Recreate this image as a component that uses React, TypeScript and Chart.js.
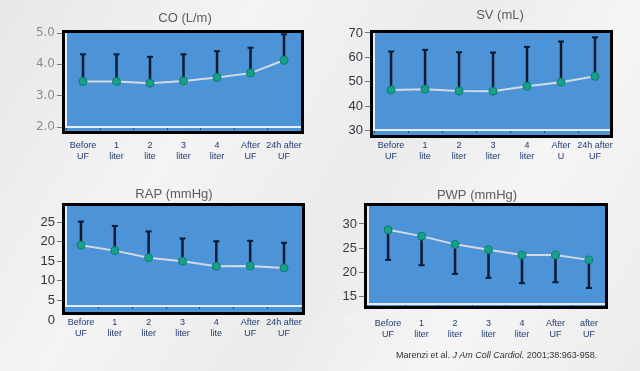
import React, { useEffect, useRef } from "react";
import { Chart, registerables } from "chart.js";
Chart.register(...registerables);

const CO_LABELS = [["Before", "UF"], ["1", "liter"], ["2", "lite"], ["3", "liter"], ["4", "liter"], ["After", "UF"], ["24h after", "UF"]];
const CO_MEAN = [3.45, 3.45, 3.4, 3.47, 3.58, 3.72, 4.13];
const CO_ERR = [4.32, 4.32, 4.24, 4.32, 4.42, 4.53, 4.96];
const CO_TICKS = [2, 3, 4, 5];

const SV_LABELS = [["Before", "UF"], ["1", "lite"], ["2", "liter"], ["3", "liter"], ["4", "liter"], ["After", "U"], ["24h after", "UF"]];
const SV_MEAN = [46.7, 47.0, 46.3, 46.2, 48.2, 49.9, 52.3];
const SV_ERR = [62.4, 63.1, 62.1, 62.0, 64.3, 66.5, 68.2];
const SV_TICKS = [30, 40, 50, 60, 70];

const RAP_LABELS = [["Before", "UF"], ["1", "liter"], ["2", "liter"], ["3", "liter"], ["4", "lite"], ["After", "UF"], ["24h after", "UF"]];
const RAP_MEAN = [19.1, 17.7, 15.9, 15.0, 13.7, 13.8, 13.3];
const RAP_ERR = [25.1, 24.0, 22.6, 20.8, 20.1, 20.2, 19.7];
const RAP_TICKS = [0, 5, 10, 15, 20, 25];

const PWP_LABELS = [["Before", "UF"], ["1", "liter"], ["2", "liter"], ["3", "liter"], ["4", "liter"], ["After", "UF"], ["after", "UF"]];
const PWP_MEAN = [28.8, 27.5, 25.8, 24.7, 23.6, 23.6, 22.6];
const PWP_ERR = [22.6, 21.5, 19.7, 18.9, 17.8, 18.0, 16.8];
const PWP_TICKS = [10, 15, 20, 25, 30];

const W = 640;
const H = 371;
const Y_W = 40;
const X_H = 30;

type Panel = {
  title: string;
  labels: string[][];
  mean: number[];
  err: number[];
  ticks: number[];
  box: { l: number; t: number; r: number; b: number };
  yMin: number;
  yMax: number;
  xMin: number;
  xMax: number;
  titleX: number;
  titleY: number;
  tickColor: string;
  tickFont: string;
  tickSize: number;
  decimals: number;
  xPad: number;
  baseOff: number;
  noMark?: number;
  whiteTick?: number;
};

const PANELS: Panel[] = [
  {
    title: "CO (L/m)", labels: CO_LABELS, mean: CO_MEAN, err: CO_ERR, ticks: CO_TICKS,
    box: { l: 62, t: 30, r: 304, b: 134 }, yMin: 1.777, yMax: 5.096, xMin: -0.627, xMax: 6.597,
    titleX: 185, titleY: 18, tickColor: "#8c8c8c", tickFont: "DejaVu Sans", tickSize: 12, decimals: 1, xPad: 6, baseOff: 7,
  },
  {
    title: "SV (mL)", labels: SV_LABELS, mean: SV_MEAN, err: SV_ERR, ticks: SV_TICKS,
    box: { l: 370, t: 30, r: 613, b: 138 }, yMin: 27.1, yMax: 71.2, xMin: -0.62, xMax: 6.53,
    titleX: 500, titleY: 15, tickColor: "#2f3442", tickFont: "Arial, 'Liberation Sans'", tickSize: 13, decimals: 0, xPad: 2, baseOff: 8,
  },
  {
    title: "RAP (mmHg)", labels: RAP_LABELS, mean: RAP_MEAN, err: RAP_ERR, ticks: RAP_TICKS,
    box: { l: 62, t: 203, r: 305, b: 315 }, yMin: 1.28, yMax: 29.85, xMin: -0.56, xMax: 6.62,
    titleX: 174, titleY: 194, tickColor: "#2f3442", tickFont: "Arial, 'Liberation Sans'", tickSize: 13, decimals: 0, xPad: 2, baseOff: 9, noMark: 0,
  },
  {
    title: "PWP (mmHg)", labels: PWP_LABELS, mean: PWP_MEAN, err: PWP_ERR, ticks: PWP_TICKS,
    box: { l: 364, t: 203, r: 608, b: 309 }, yMin: 12.47, yMax: 34.33, xMin: -0.72, xMax: 6.57,
    titleX: 477, titleY: 195, tickColor: "#3a3a3a", tickFont: "Arial, 'Liberation Sans'", tickSize: 13, decimals: 0, xPad: 9, baseOff: 5, whiteTick: 10,
  },
];

function PanelChart({ p }: { p: Panel }) {
  const ref = useRef<HTMLCanvasElement | null>(null);
  useEffect(() => {
    if (!ref.current) return;
    const plugin = {
      id: "panelDeco",
      beforeDraw(chart: any) {
        const { ctx, chartArea: a } = chart;
        ctx.save();
        ctx.fillStyle = "#4c93d7";
        ctx.fillRect(a.left, a.top, a.right - a.left, a.bottom - a.top);
        const baseY = a.bottom - p.baseOff;
        ctx.strokeStyle = "#e6eff9";
        ctx.lineWidth = 2;
        ctx.beginPath();
        ctx.moveTo(a.left + 4, a.top + 3);
        ctx.lineTo(a.left + 4, baseY);
        ctx.moveTo(a.left + 3, baseY);
        ctx.lineTo(a.right - 3, baseY);
        ctx.stroke();
        const xs = chart.scales.x;
        ctx.strokeStyle = "#2a4a7a";
        ctx.lineWidth = 1;
        ctx.beginPath();
        for (let i = 0; i <= p.labels.length; i++) {
          const x = Math.round(xs.getPixelForValue(i - 0.5)) + 0.5;
          if (x < a.left + 3 || x > a.right - 3) continue;
          ctx.moveTo(x, baseY + 1);
          ctx.lineTo(x, baseY + 3);
        }
        ctx.stroke();
        ctx.strokeStyle = "#000";
        ctx.lineWidth = 3;
        ctx.strokeRect(a.left + 1.5, a.top + 1.5, a.right - a.left - 3, a.bottom - a.top - 3);
        ctx.restore();
      },
      beforeDatasetsDraw(chart: any) {
        const { ctx } = chart;
        const xs = chart.scales.x;
        const ys = chart.scales.y;
        ctx.save();
        ctx.strokeStyle = "#0b1a33";
        for (let i = 0; i < p.mean.length; i++) {
          const x = xs.getPixelForValue(i);
          const y0 = ys.getPixelForValue(p.mean[i]);
          const y1 = ys.getPixelForValue(p.err[i]);
          ctx.lineWidth = 2.5;
          ctx.beginPath();
          ctx.moveTo(x, y0);
          ctx.lineTo(x, y1);
          ctx.stroke();
          ctx.lineWidth = 2;
          ctx.beginPath();
          ctx.moveTo(x - 3, y1);
          ctx.lineTo(x + 3, y1);
          ctx.stroke();
        }
        ctx.restore();
      },
      afterDraw(chart: any) {
        const { ctx } = chart;
        ctx.save();
        ctx.font = "13px Arial, 'Liberation Sans', sans-serif";
        ctx.fillStyle = "#5c5c5c";
        ctx.textAlign = "center";
        ctx.textBaseline = "middle";
        ctx.fillText(p.title, p.titleX, p.titleY);
        ctx.restore();
      },
    };

    const chart = new Chart(ref.current, {
      type: "line",
      data: {
        datasets: [
          {
            data: p.mean.map((v, i) => ({ x: i, y: v })),
            borderColor: "#d3dae3",
            borderWidth: 2,
            pointRadius: 4,
            pointBackgroundColor: "#17a08a",
            pointBorderColor: "#0f7d6b",
            pointBorderWidth: 1,
            tension: 0,
          },
        ],
      },
      options: {
        animation: false,
        responsive: false,
        devicePixelRatio: 1,
        events: [],
        layout: {
          padding: {
            left: p.box.l - Y_W,
            top: p.box.t,
            right: W - p.box.r,
            bottom: H - p.box.b - X_H,
          },
        },
        plugins: { legend: { display: false }, title: { display: false }, tooltip: { enabled: false } },
        scales: {
          x: {
            type: "linear",
            min: p.xMin,
            max: p.xMax,
            afterBuildTicks: (s: any) => {
              s.ticks = p.labels.map((_, i) => ({ value: i }));
            },
            afterFit: (s: any) => {
              s.height = X_H;
            },
            grid: { display: false, drawTicks: false },
            border: { display: false },
            ticks: {
              autoSkip: false,
              maxRotation: 0,
              minRotation: 0,
              padding: p.xPad,
              color: "#1f3b73",
              font: { family: "Arial, 'Liberation Sans', sans-serif", size: 9, lineHeight: 1.2 },
              callback: (v: any) => p.labels[v] as any,
            },
          },
          y: {
            type: "linear",
            min: p.yMin,
            max: p.yMax,
            bounds: "data",
            afterBuildTicks: (s: any) => {
              s.ticks = p.ticks.map((v) => ({ value: v }));
            },
            afterFit: (s: any) => {
              s.width = Y_W;
            },
            grid: {
              drawOnChartArea: false,
              drawTicks: true,
              tickLength: 5,
              tickWidth: 1,
              tickColor: (c: any) =>
                c.tick && c.tick.value === p.noMark
                  ? "rgba(0,0,0,0)"
                  : c.tick && c.tick.value === p.whiteTick
                  ? "#f4f4f4"
                  : "#777",
            },
            border: { display: false },
            ticks: {
              autoSkip: false,
              padding: 2,
              color: (c: any) => (c.tick && c.tick.value === p.whiteTick ? "#f6f6f6" : p.tickColor),
              font: { family: p.tickFont, size: p.tickSize },
              callback: (v: any) => Number(v).toFixed(p.decimals),
            },
          },
        },
      } as any,
      plugins: [plugin],
    });
    return () => chart.destroy();
  }, [p]);
  return (
    <canvas
      ref={ref}
      width={W}
      height={H}
      style={{ position: "absolute", left: 0, top: 0, width: W, height: H }}
    />
  );
}

export default function App() {
  return (
    <div
      style={{
        position: "absolute",
        left: 0,
        top: 0,
        width: W,
        height: H,
        overflow: "hidden",
        background:
          "linear-gradient(120deg, #e7e7e7 0%, #f4f4f4 30%, #ebebeb 55%, #f5f5f5 75%, #ececec 100%)",
      }}
    >
      {PANELS.map((p, i) => (
        <PanelChart key={i} p={p} />
      ))}
      <div
        style={{
          position: "absolute",
          left: 396,
          top: 350,
          fontFamily: "Arial, 'Liberation Sans', sans-serif",
          fontSize: 9,
          lineHeight: "11px",
          color: "#333",
          whiteSpace: "nowrap",
        }}
      >
        Marenzi et al. <i>J Am Coll Cardiol.</i> 2001;38:963-958.
      </div>
    </div>
  );
}
